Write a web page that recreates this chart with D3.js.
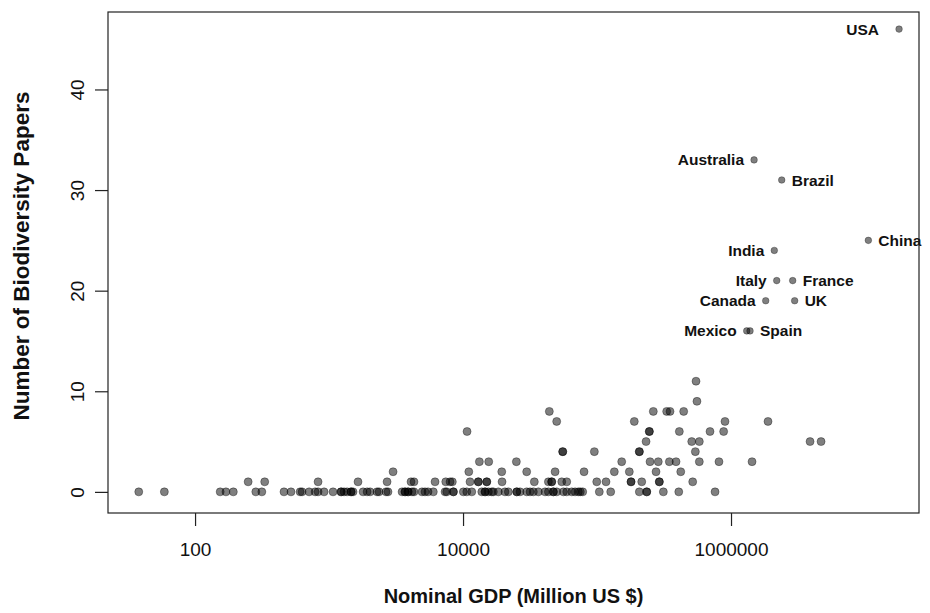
<!DOCTYPE html>
<html>
<head>
<meta charset="utf-8">
<script src="https://cdn.jsdelivr.net/npm/d3@7"></script>
<style>
  body { margin: 0; background: #fff; }
  text { font-family: "Liberation Sans", Arial, Helvetica, sans-serif; }
</style>
</head>
<body>
<div id="chart"></div>
<script>
// GDP (million US $) of countries, grouped by number of biodiversity papers
var gdpPapers0 = [38, 59, 154, 170, 193, 284, 315,
  461, 520, 608, 629, 710, 787, 828, 918, 1071, 1230, 1230, 1294, 1363, 1460, 1460, 1511,
  1795, 1923, 2024, 2281, 2361, 2662, 2754, 3507, 3690, 3690, 3890, 3890, 4160, 4305,
  4940, 5200, 5480, 6000, 7340, 7560, 8470, 8470, 10050, 10660, 11620, 13800, 14600,
  14600, 15450, 16380, 16830, 18340, 20560, 21780, 25180, 25180, 26620, 29870, 31620,
  33480, 36500, 40940, 43340, 47200, 47200, 50030, 56070, 59420, 64760, 68560, 72500,
  75000, 78200, 104000, 126500, 206900, 234900, 234900, 312600, 407400, 760000];
var gdpPapers1 = [249, 331, 828, 1645, 2710, 4090, 4305, 6180, 7430, 8000, 8320, 11270,
  13000, 13000, 15030, 15030, 19550, 34040, 43350, 45900, 45900, 54550, 59430, 99500,
  116700, 179400, 179400, 215600, 291700, 291700, 517600];
var gdpPapers2 = [3005, 11040, 19450, 29850, 48640, 80000, 134600, 174200, 275600, 421500];
var gdpPapers3 = [13240, 15550, 25000, 152800, 248600, 286500, 346500, 388900, 580000, 813000, 1435000];
var gdpPapers4 = [55460, 55460, 95500, 206900, 206900, 541700];
var gdpPapers5 = [232200, 509000, 580000, 3889000, 4699000];
var gdpPapers6 = [10715, 245700, 245700, 411400, 697000, 881000];
var gdpPapers7 = [50000, 189700, 901600, 1888000];
var gdpPapers8 = [44060, 263000, 331000, 350600, 443300];
var gdpPapers9 = [557000];
var gdpPapers11 = [548000];

var paperCounts = [0, 1, 2, 3, 4, 5, 6, 7, 8, 9, 11];
var gdpGroups = [gdpPapers0, gdpPapers1, gdpPapers2, gdpPapers3, gdpPapers4, gdpPapers5,
  gdpPapers6, gdpPapers7, gdpPapers8, gdpPapers9, gdpPapers11];

// labelled countries
var countries = ["USA", "Australia", "Brazil", "China", "India", "Italy", "France",
  "Canada", "UK", "Mexico", "Spain"];
var countryGdp = [17950000, 1486000, 2390000, 10590000, 2104000, 2193000, 2886000,
  1815000, 2985000, 1310000, 1386000];
var countryPapers = [46, 33, 31, 25, 24, 21, 21, 19, 19, 16, 16];

var xTicks = [100, 10000, 1000000];
var yTicks = [0, 10, 20, 30, 40];

var width = 930, height = 613;
var box = { left: 108, right: 919, top: 12, bottom: 513 };

var svg = d3.select("#chart").append("svg")
  .attr("width", width)
  .attr("height", height);

var x = d3.scaleLog()
  .domain([22.4, 25290000])
  .range([box.left, box.right]);

var y = d3.scaleLinear()
  .domain([-2.1, 47.7])
  .range([box.bottom, box.top]);

// build points
var points = [];
gdpGroups.forEach(function (g, i) {
  g.forEach(function (v) { points.push({ gdp: v, papers: paperCounts[i] }); });
});

svg.append("g")
  .selectAll("circle")
  .data(points)
  .enter()
  .append("circle")
  .attr("cx", function (d) { return x(d.gdp); })
  .attr("cy", function (d) { return y(d.papers); })
  .attr("r", 4)
  .attr("fill", "rgba(0,0,0,0.5)")
  .attr("stroke", "rgba(0,0,0,0.35)")
  .attr("stroke-width", 1);

var labelled = countries.map(function (c, i) {
  return { name: c, gdp: countryGdp[i], papers: countryPapers[i] };
});
var leftSide = ["USA", "Australia", "India", "Italy", "Canada", "Mexico"];

svg.append("g")
  .selectAll("circle")
  .data(labelled)
  .enter()
  .append("circle")
  .attr("cx", function (d) { return x(d.gdp); })
  .attr("cy", function (d) { return y(d.papers); })
  .attr("r", 3.3)
  .attr("fill", "rgba(0,0,0,0.5)")
  .attr("stroke", "rgba(0,0,0,0.3)")
  .attr("stroke-width", 1);

svg.append("g")
  .selectAll("text")
  .data(labelled)
  .enter()
  .append("text")
  .attr("x", function (d) {
    var left = leftSide.indexOf(d.name) >= 0;
    var off = d.name == "USA" ? 20 : 10;
    return x(d.gdp) + (left ? -off : off);
  })
  .attr("y", function (d) { return y(d.papers); })
  .attr("dy", "0.36em")
  .attr("text-anchor", function (d) { return leftSide.indexOf(d.name) >= 0 ? "end" : "start"; })
  .attr("font-size", "15.5px")
  .attr("font-weight", "bold")
  .attr("fill", "#111")
  .text(function (d) { return d.name; });

// box
svg.append("rect")
  .attr("x", box.left)
  .attr("y", box.top)
  .attr("width", box.right - box.left)
  .attr("height", box.bottom - box.top)
  .attr("fill", "none")
  .attr("stroke", "#222")
  .attr("stroke-width", 1.2);

// x axis
var xAxis = d3.axisBottom(x)
  .tickValues(xTicks)
  .tickFormat(d3.format("d"))
  .tickSize(13)
  .tickPadding(17);
var gx = svg.append("g")
  .attr("transform", "translate(0," + box.bottom + ")")
  .call(xAxis);
gx.select(".domain").remove();
gx.selectAll("line").attr("stroke", "#222").attr("stroke-width", 1.2);
gx.selectAll("text")
  .attr("font-size", "19px")
  .attr("fill", "#111")
  .style("font-family", "'Liberation Sans', Arial, sans-serif");

// y axis
var yAxis = d3.axisLeft(y)
  .tickValues(yTicks)
  .tickSize(13);
var gy = svg.append("g")
  .attr("transform", "translate(" + box.left + ",0)")
  .call(yAxis);
gy.select(".domain").remove();
gy.selectAll("line").attr("stroke", "#222").attr("stroke-width", 1.2);
gy.selectAll("text")
  .attr("x", null)
  .attr("dy", null)
  .attr("text-anchor", "middle")
  .attr("transform", "translate(-31,0) rotate(-90)")
  .attr("dominant-baseline", "central")
  .attr("font-size", "19px")
  .attr("fill", "#111")
  .style("font-family", "'Liberation Sans', Arial, sans-serif");

// axis titles
svg.append("text")
  .attr("x", (box.left + box.right) / 2)
  .attr("y", 603)
  .attr("text-anchor", "middle")
  .attr("font-size", "20px")
  .attr("font-weight", "bold")
  .attr("fill", "#111")
  .text("Nominal GDP (Million US $)");

svg.append("text")
  .attr("transform", "translate(29,256) rotate(-90)")
  .attr("text-anchor", "middle")
  .attr("font-size", "22.5px")
  .attr("font-weight", "bold")
  .attr("fill", "#111")
  .text("Number of Biodiversity Papers");
</script>
</body>
</html>
